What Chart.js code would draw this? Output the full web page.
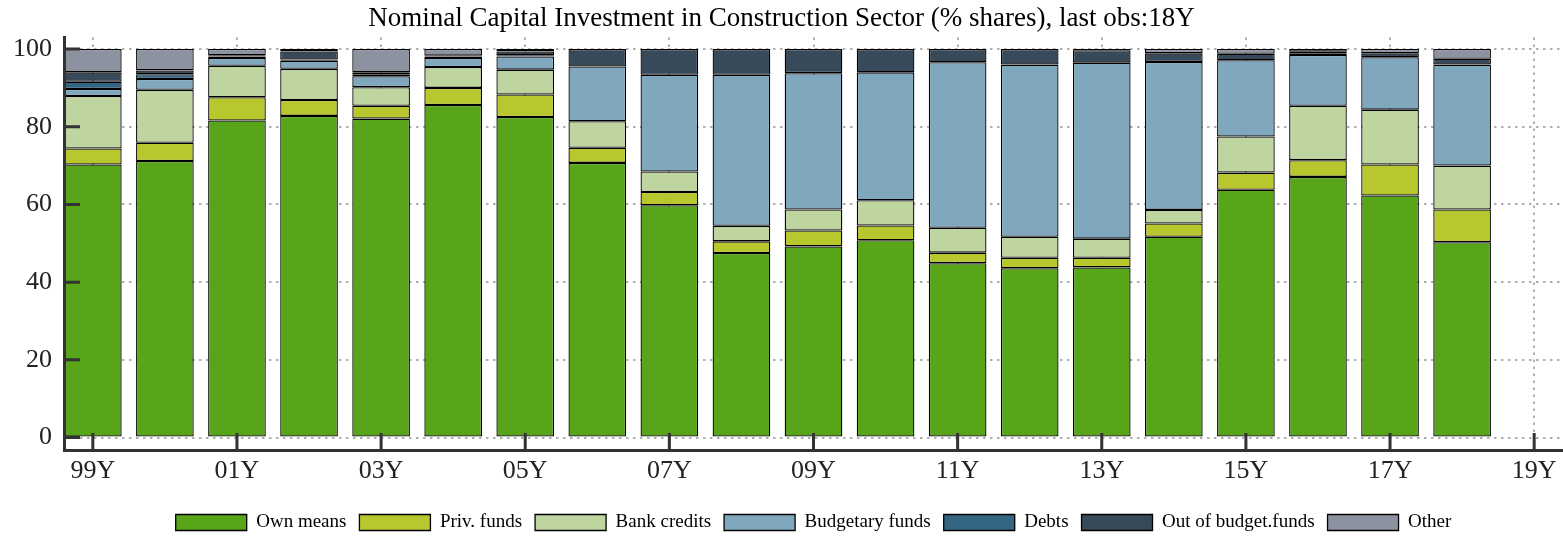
<!DOCTYPE html>
<html lang="en">
<head>
  <meta charset="UTF-8">
  <title>Nominal Capital Investment in Construction Sector</title>
  <script src="https://cdn.jsdelivr.net/npm/chart.js"></script>
  <style>
    html, body { margin: 0; padding: 0; background: #fff; }
    #wrap { width: 1563px; height: 547px; }
  </style>
</head>
<body>
  <div id="wrap"><canvas id="chart"></canvas></div>

  <script>
    // years shown as bars, % shares
    const years = [1999, 2000, 2001, 2002, 2003, 2004, 2005, 2006, 2007, 2008,
                   2009, 2010, 2011, 2012, 2013, 2014, 2015, 2016, 2017, 2018];
    const ownMeans  = [70.3, 71.2, 81.6, 82.8, 82.1, 85.6, 82.5, 70.7, 59.8, 47.5, 49.2, 50.8, 44.9, 43.6, 43.8, 51.7, 63.8, 67.1, 62.3, 50.3];
    const privFunds = [4.1, 4.7, 6.0, 4.1, 3.3, 4.4, 5.8, 3.9, 3.4, 3.0, 4.1, 3.8, 2.7, 2.7, 2.5, 3.4, 4.4, 4.3, 8.0, 8.4];
    const bankCredits = [13.5, 13.6, 8.1, 8.0, 4.8, 5.4, 6.4, 6.8, 5.3, 4.0, 5.4, 6.5, 6.4, 5.4, 4.9, 3.5, 9.3, 14.0, 14.1, 11.3];
    const budgetFunds = [1.8, 2.8, 2.0, 2.1, 2.8, 2.3, 3.4, 14.1, 24.9, 38.9, 35.1, 32.9, 42.6, 44.3, 45.3, 38.1, 19.6, 13.1, 13.5, 26.0];
    const debts     = [1.9, 1.2, 0.4, 0.3, 0.5, 0.4, 0.3, 0, 0, 0, 0, 0, 0, 0, 0, 0, 0, 0.3, 0, 0];
    const outBudget = [2.4, 1.0, 0.3, 2.1, 0.5, 0.2, 1.0, 4.5, 6.6, 6.6, 6.2, 6.0, 3.4, 4.0, 3.2, 2.2, 1.7, 0.5, 1.0, 1.5];
    const other     = [6.0, 5.5, 1.6, 0.6, 6.0, 1.7, 0.6, 0, 0, 0, 0, 0, 0, 0, 0.3, 1.1, 1.2, 0.7, 1.1, 2.5];

    const tickYears  = [1999, 2001, 2003, 2005, 2007, 2009, 2011, 2013, 2015, 2017, 2019];
    const tickLabels = ['99Y', '01Y', '03Y', '05Y', '07Y', '09Y', '11Y', '13Y', '15Y', '17Y', '19Y'];
    const yTicks = [0, 20, 40, 60, 80, 100];

    const serif = "'Liberation Serif', 'Times New Roman', serif";

    function series(label, values, color) {
      return {
        label: label,
        data: years.map((yr, i) => ({ x: yr, y: values[i] })),
        backgroundColor: color,
        borderColor: '#000',
        borderWidth: 1.3,
        borderSkipped: false,
        categoryPercentage: 1.0,
        barPercentage: 0.8
      };
    }

    // small inward tick marks on both axes, drawn over the bars
    const innerTicks = {
      id: 'innerTicks',
      afterDatasetsDraw(chart) {
        const { ctx, chartArea, scales } = chart;
        ctx.save();
        ctx.strokeStyle = '#333';
        ctx.lineWidth = 3;
        ctx.beginPath();
        scales.x.ticks.forEach(t => {
          const px = scales.x.getPixelForValue(t.value);
          ctx.moveTo(px, chartArea.bottom);
          ctx.lineTo(px, chartArea.bottom - 17);
        });
        scales.y.ticks.forEach(t => {
          const py = scales.y.getPixelForValue(t.value);
          ctx.moveTo(chartArea.left, py);
          ctx.lineTo(chartArea.left + 16, py);
        });
        ctx.stroke();
        ctx.restore();
      }
    };

    new Chart(document.getElementById('chart'), {
      type: 'bar',
      data: {
        datasets: [
          series('Own means', ownMeans, '#58A51A'),
          series('Priv. funds', privFunds, '#B8C72E'),
          series('Bank credits', bankCredits, '#BED5A0'),
          series('Budgetary funds', budgetFunds, '#7FA8BE'),
          series('Debts', debts, '#346684'),
          series('Out of budget.funds', outBudget, '#384A5A'),
          series('Other', other, '#8C92A0')
        ]
      },
      options: {
        responsive: true,
        maintainAspectRatio: false,
        animation: false,
        layout: { padding: { left: 0, right: 0, top: 0, bottom: 5 } },
        scales: {
          x: {
            type: 'linear',
            stacked: true,
            min: 1998.6,
            max: 2019.4,
            offset: false,
            afterBuildTicks: (scale) => { scale.ticks = tickYears.map(v => ({ value: v })); },
            afterFit: (scale) => { scale.height = 50; },
            grid: { offset: false, color: '#b0b0b0', lineWidth: 2, drawTicks: false },
            border: { display: true, color: '#333', width: 3, dash: [2.5, 4.5], z: 1 },
            ticks: {
              padding: 6,
              maxRotation: 0,
              autoSkip: false,
              color: '#222',
              font: { family: serif, size: 26 },
              callback: (v) => tickLabels[tickYears.indexOf(v)]
            }
          },
          y: {
            stacked: true,
            min: -3.2,
            max: 103,
            afterBuildTicks: (scale) => { scale.ticks = yTicks.map(v => ({ value: v })); },
            afterFit: (scale) => { scale.width = 64; },
            grid: { color: '#b0b0b0', lineWidth: 2, drawTicks: false },
            border: { display: true, color: '#333', width: 3, dash: [2.5, 4.5], z: 1 },
            ticks: {
              padding: 12,
              color: '#222',
              font: { family: serif, size: 26 }
            }
          }
        },
        plugins: {
          title: {
            display: true,
            text: 'Nominal Capital Investment in Construction Sector (% shares), last obs:18Y',
            color: '#000',
            font: { family: serif, size: 27, weight: 'normal' },
            padding: { top: 3, bottom: 2 }
          },
          legend: {
            position: 'bottom',
            fullSize: false,
            labels: {
              boxWidth: 71,
              boxHeight: 16,
              padding: 13,
              color: '#000',
              font: { family: serif, size: 19 }
            }
          },
          tooltip: { enabled: false }
        }
      },
      plugins: [innerTicks]
    });
  </script>
</body>
</html>
